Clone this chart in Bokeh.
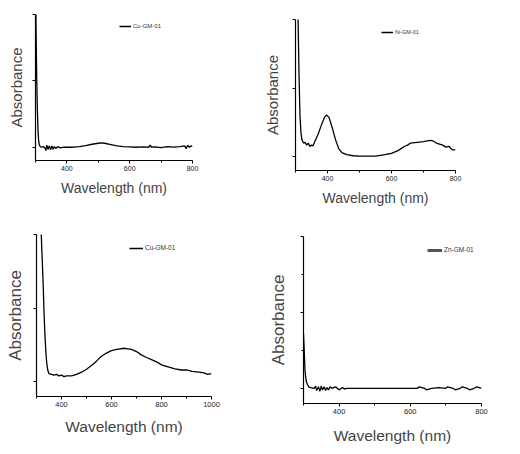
from bokeh.plotting import figure
from bokeh.layouts import column, row
from bokeh.models import Range1d, FixedTicker, Legend, LegendItem
from bokeh.embed import file_html
from bokeh.resources import INLINE

# ---------------- data (absorbance in arbitrary units, y ticks at 0,1,2) -------------
co_wl = [300, 302, 304, 306, 308, 310, 312, 315, 320, 325, 330, 333, 336, 340, 344, 348,
         352, 356, 360, 365, 370, 380, 390, 400, 420, 440, 460, 480, 500, 510, 520, 540,
         560, 580, 600, 620, 640, 660, 665, 670, 680, 700, 720, 740, 760, 775, 780, 785,
         790, 795, 800]
co_abs = [2.5, 1.7, 1.0, 0.55, 0.25, 0.1, 0.04, 0.01, 0.0, 0.01, -0.01, -0.05, 0.03, -0.03,
          0.02, -0.04, 0.02, -0.03, 0.01, -0.02, 0.01, -0.01, 0.0, 0.0, 0.0, 0.01, 0.025,
          0.045, 0.06, 0.065, 0.06, 0.04, 0.02, 0.01, 0.005, 0.0, 0.005, 0.0, 0.03, 0.0,
          0.005, -0.005, 0.01, 0.0, 0.01, 0.02, -0.02, 0.03, 0.0, 0.02, 0.01]

ni_wl = [300, 305, 308, 311, 314, 317, 320, 325, 330, 335, 340, 345, 350, 355, 360, 370,
         380, 390, 397, 405, 415, 425, 435, 445, 460, 480, 500, 520, 550, 580, 600, 620,
         640, 650, 660, 680, 700, 720, 730, 740, 760, 770, 780, 790, 800]
ni_abs = [3.0, 2.5, 2.0, 1.2, 0.6, 0.35, 0.25, 0.2, 0.21, 0.17, 0.2, 0.15, 0.17, 0.16,
          0.22, 0.32, 0.45, 0.57, 0.61, 0.57, 0.42, 0.25, 0.12, 0.06, 0.03, 0.015, 0.01,
          0.01, 0.01, 0.03, 0.05, 0.09, 0.15, 0.17, 0.2, 0.21, 0.22, 0.24, 0.23, 0.2,
          0.17, 0.14, 0.15, 0.1, 0.1]

cu_wl = [300, 319, 323, 327, 330, 334, 338, 341, 345, 350, 360, 370, 380, 390, 400, 410,
         420, 440, 460, 480, 500, 520, 540, 557, 580, 597, 620, 651, 680, 700, 719, 740,
         760, 786, 800, 820, 854, 880, 900, 922, 950, 970, 985, 1000]
cu_abs = [4.0, 2.0, 1.65, 1.29, 0.95, 0.61, 0.38, 0.25, 0.16, 0.11, 0.1, 0.09, 0.1, 0.08,
          0.09, 0.07, 0.08, 0.08, 0.1, 0.13, 0.17, 0.22, 0.28, 0.34, 0.39, 0.42, 0.44,
          0.455, 0.44, 0.41, 0.365, 0.33, 0.3, 0.26, 0.23, 0.21, 0.175, 0.16, 0.16, 0.14,
          0.13, 0.12, 0.1, 0.11]

zn_wl = [300, 302, 304, 306, 308, 311, 315, 320, 330, 334, 337, 342, 346, 350, 353, 358,
         362, 366, 370, 375, 380, 390, 400, 410, 415, 420, 450, 500, 550, 600, 620, 625,
         640, 645, 660, 680, 700, 705, 720, 726, 740, 746, 760, 766, 780, 786, 800]
zn_abs = [0.72, 0.5, 0.25, 0.15, 0.09, 0.05, 0.02, 0.01, 0.0, 0.03, -0.03, 0.02, -0.04,
          0.03, -0.02, 0.02, -0.03, 0.01, -0.02, 0.02, 0.0, 0.02, -0.02, 0.01, -0.01, 0.0,
          0.0, 0.0, 0.0, 0.0, 0.0, 0.02, 0.0, -0.02, 0.0, 0.01, 0.0, 0.02, 0.0, -0.02,
          0.0, 0.02, 0.0, -0.02, 0.0, 0.02, 0.0]

labels = ["Co-GM-01", "Ni-GM-01", "Cu-GM-01", "Zn-GM-01"]
x_ticks_800 = [400, 600, 800]
x_minor_800 = [300, 500, 700]
x_ticks_1000 = [400, 600, 800, 1000]
x_minor_1000 = [300, 500, 700, 900]
y_ticks = [0, 1, 2]

FONT = "Liberation Sans, Arial, sans-serif"


def panel(wl, ab, label, xend, xt, xm, borders, fs_x, fs_y, fs_tick, xlab_off, ylab_off,
          leg_loc, leg_w, leg_fs, leg_lw, leg_col, y_minor=None):
    left, right, top, bottom, height = borders
    p = figure(width=260, height=height,
               output_backend="svg", toolbar_location=None, frame_align=False,
               x_range=Range1d(300, xend), y_range=Range1d(-0.2, 2.0),
               min_border_left=left, min_border_right=right,
               min_border_top=top, min_border_bottom=bottom)
    p.outline_line_color = None
    p.grid.visible = False
    p.line(wl, ab, line_color="black", line_width=1.3)
    # legend-only renderer (a single missing point) carrying the legend line style
    lr = p.line([float("nan")], [float("nan")], line_color=leg_col, line_width=leg_lw)

    xa = p.xaxis[0]
    xa.ticker = FixedTicker(ticks=xt, minor_ticks=xm)
    xa.axis_label = "Wavelength (nm)"
    xa.axis_label_text_font = FONT
    xa.axis_label_text_font_size = f"{fs_x}px"
    xa.axis_label_text_font_style = "normal"
    xa.axis_label_standoff = xlab_off
    xa.major_label_text_font = FONT
    xa.major_label_text_font_size = f"{fs_tick}px"
    xa.major_label_text_color = "#222222"
    xa.major_label_standoff = 2
    xa.major_tick_in = 0
    xa.major_tick_out = 3
    xa.minor_tick_in = 0
    xa.minor_tick_out = 2
    xa.axis_line_width = 1.2

    ya = p.yaxis[0]
    ya.ticker = FixedTicker(ticks=y_ticks, minor_ticks=y_minor or [])
    ya.axis_label = "Absorbance"
    ya.axis_label_text_font = FONT
    ya.axis_label_text_font_size = f"{fs_y}px"
    ya.axis_label_text_font_style = "normal"
    ya.axis_label_standoff = ylab_off
    ya.major_label_overrides = {t: "" for t in y_ticks}
    ya.major_label_standoff = 0
    ya.major_tick_in = 0
    ya.major_tick_out = 3
    ya.minor_tick_in = 0
    ya.minor_tick_out = 2
    ya.axis_line_width = 1.2

    leg = Legend(items=[LegendItem(label=label, renderers=[lr])], location=leg_loc,
                 padding=0, margin=0, spacing=0, label_standoff=2,
                 glyph_width=leg_w, glyph_height=6, label_height=6,
                 label_text_font=FONT, label_text_font_size=f"{leg_fs}px",
                 label_text_color="#333333",
                 border_line_color=None, background_fill_alpha=0)
    p.add_layout(leg)
    return p


p1 = panel(co_wl, co_abs, labels[0], 800, x_ticks_800, x_minor_800,
           (35, 68, 14, 60, 220), 14, 15, 7, 6, 8, (84, 131), 12, 6, 1.5, "black")
p2 = panel(ni_wl, ni_abs, labels[1], 800, x_ticks_800, x_minor_800,
           (35, 65, 19, 50, 220), 14, 15, 7, 6, 12, (86, 135), 12, 5.5, 1.5, "black")
p3 = panel(cu_wl, cu_abs, labels[2], 1000, x_ticks_1000, x_minor_1000,
           (36, 49, 14, 58, 234), 15.5, 17, 7.5, 8, 9, (93, 145), 14, 6.5, 1.5, "black")
p4 = panel(zn_wl, zn_abs, labels[3], 800, x_ticks_800, x_minor_800,
           (43, 39, 16, 51, 234), 15.5, 17, 7.5, 10, 13, (124, 150), 15, 6.5, 3, "#555555",
           y_minor=[0.5, 1.5])

layout = column(row(p1, p2), row(p3, p4))
open("out.html", "w").write(file_html(layout, INLINE))
